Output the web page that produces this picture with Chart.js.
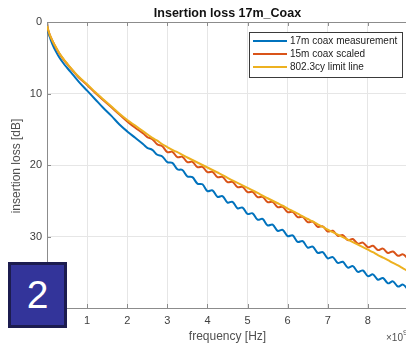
<!DOCTYPE html>
<html>
<head>
<meta charset="utf-8">
<script src="https://cdn.jsdelivr.net/npm/chart.js@4/dist/chart.umd.min.js"></script>
<style>
  html, body { margin: 0; padding: 0; background: #ffffff; }
  #wrap { position: relative; width: 406px; height: 343px; overflow: hidden; }
  #badge {
    position: absolute; left: 8px; top: 262px; width: 53px; height: 60px;
    background: #33349a; border: 3px solid #1c1c4f;
    color: #ffffff; font-family: "Liberation Sans", Arial, sans-serif;
    font-size: 39px; line-height: 60px; text-align: center;
  }
</style>
</head>
<body>
<div id="wrap">
  <canvas id="c" width="406" height="343"></canvas>
  <div id="badge">2</div>
</div>
<script>
// frequency [x 1e9 Hz]
const freq = [0, 0.01, 0.02, 0.04, 0.07, 0.1, 0.15, 0.2, 0.3, 0.4, 0.5, 0.65, 0.8, 1.0, 1.2, 1.4, 1.6, 1.8, 2.0, 2.2, 2.4,
  2.5, 2.625, 2.75, 2.875, 3.0, 3.125, 3.25, 3.375, 3.5, 3.625, 3.75, 3.875,
  4.0, 4.125, 4.25, 4.375, 4.5, 4.625, 4.75, 4.875, 5.0, 5.125, 5.25, 5.375,
  5.5, 5.625, 5.75, 5.875, 6.0, 6.125, 6.25, 6.375, 6.5, 6.625, 6.75, 6.875,
  7.0, 7.125, 7.25, 7.375, 7.5, 7.625, 7.75, 7.875, 8.0, 8.125, 8.25, 8.375,
  8.5, 8.625, 8.75, 8.875, 9.0];

// 17m coax measurement [dB]
const measured17m = [0, 0.8, 1.1, 1.6, 2.1, 2.6, 3.3, 3.9, 4.9, 5.7, 6.4, 7.4, 8.4, 9.6, 10.8, 12.0, 13.1, 14.3, 15.3, 16.2, 17.1,
  17.6, 17.88, 18.57, 18.81, 19.6, 19.7, 20.6, 20.7, 21.6, 21.7, 22.6, 22.7,
  23.65, 23.55, 24.45, 24.35, 25.25, 25.15, 26.05, 25.95, 26.85, 26.75, 27.65, 27.55,
  28.45, 28.33, 29.2, 29.08, 29.95, 29.85, 30.75, 30.65, 31.55, 31.43, 32.3, 32.18,
  33.05, 32.88, 33.7, 33.53, 34.35, 34.15, 34.95, 34.75, 35.55, 35.3, 36.05, 35.8,
  36.55, 36.28, 37.0, 36.73, 37.45];

// 15m coax scaled [dB]
const scaled15m = [0, 0.6, 0.9, 1.3, 1.8, 2.2, 2.8, 3.35, 4.35, 5.15, 5.85, 6.85, 7.8, 8.8, 9.9, 10.9, 11.9, 12.9, 13.9, 14.8, 15.6,
  16.1, 16.38, 17.12, 17.38, 18.2, 18.15, 18.9, 18.85, 19.6, 19.55, 20.3, 20.25,
  21.0, 20.95, 21.7, 21.65, 22.4, 22.35, 23.1, 23.05, 23.8, 23.75, 24.5, 24.45,
  25.2, 25.15, 25.9, 25.85, 26.6, 26.55, 27.3, 27.25, 28.0, 27.93, 28.65, 28.58,
  29.3, 29.2, 29.9, 29.8, 30.5, 30.35, 31.0, 30.85, 31.5, 31.3, 31.9, 31.7,
  32.3, 32.1, 32.7, 32.5, 33.1];

// 802.3cy limit line [dB]
const limitLine = [0, 0.6, 0.9, 1.3, 1.8, 2.2, 2.8, 3.3, 4.3, 5.1, 5.8, 6.8, 7.7, 8.7, 9.8, 10.8, 11.8, 12.8, 13.7, 14.5, 15.3,
  15.7, 16.2, 16.6, 17.1, 17.5, 17.9, 18.2, 18.6, 18.95, 19.3, 19.65, 20.0,
  20.35, 20.7, 21.05, 21.4, 21.8, 22.15, 22.5, 22.85, 23.2, 23.55, 23.9, 24.3,
  24.65, 25.0, 25.35, 25.7, 26.1, 26.45, 26.8, 27.2, 27.55, 27.9, 28.3, 28.65,
  29.05, 29.4, 29.75, 30.1, 30.45, 30.8, 31.15, 31.5, 31.85, 32.2, 32.6, 32.95,
  33.3, 33.7, 34.05, 34.45, 34.85];

const xTicks = [0, 1, 2, 3, 4, 5, 6, 7, 8];
const yTicks = [0, 10, 20, 30, 40];
const seriesNames = ["17m coax measurement", "15m coax scaled", "802.3cy limit line"];
const seriesColors = ["#0072BD", "#D95319", "#EDB120"];

const FONT = '"Liberation Sans", Arial, Helvetica, sans-serif';

function pts(arr) { return freq.map((f, i) => ({ x: f, y: arr[i] })); }

const deco = {
  id: 'deco',
  afterDraw(chart) {
    const { ctx, chartArea: a, scales: { x, y } } = chart;
    ctx.save();
    // top box line and inward ticks
    ctx.strokeStyle = '#8c8c8c';
    ctx.lineWidth = 1;
    ctx.beginPath();
    ctx.moveTo(a.left, a.top + 0.5); ctx.lineTo(a.right, a.top + 0.5);
    xTicks.forEach(v => {
      const px = Math.round(x.getPixelForValue(v)) + 0.5;
      ctx.moveTo(px, a.bottom); ctx.lineTo(px, a.bottom - 4);
      ctx.moveTo(px, a.top); ctx.lineTo(px, a.top + 4);
    });
    yTicks.forEach(v => {
      const py = Math.round(y.getPixelForValue(v)) + 0.5;
      ctx.moveTo(a.left, py); ctx.lineTo(a.left + 4, py);
    });
    ctx.stroke();

    // title
    ctx.fillStyle = '#111111';
    ctx.font = 'bold 12.5px ' + FONT;
    ctx.textAlign = 'center';
    ctx.textBaseline = 'alphabetic';
    ctx.fillText('Insertion loss 17m_Coax', 227.5, 17);

    // axis titles
    ctx.fillStyle = '#505050';
    ctx.font = '12px ' + FONT;
    ctx.fillText('frequency [Hz]', 227.5, 340);
    ctx.save();
    ctx.translate(20, 166);
    ctx.rotate(-Math.PI / 2);
    ctx.fillText('insertion loss [dB]', 0, 0);
    ctx.restore();

    // exponent label
    ctx.textAlign = 'left';
    ctx.font = '10px ' + FONT;
    ctx.fillStyle = '#505050';
    ctx.fillText('\u00d710', 386, 341);
    ctx.font = '8px ' + FONT;
    ctx.fillText('9', 403, 335);

    // legend
    const lx = 249.5, ly = 32.5, lw = 153, lh = 45;
    ctx.fillStyle = '#ffffff';
    ctx.fillRect(lx, ly, lw, lh);
    ctx.strokeStyle = '#3a3a3a';
    ctx.lineWidth = 1;
    ctx.strokeRect(lx, ly, lw, lh);
    ctx.font = '10px ' + FONT;
    ctx.textBaseline = 'middle';
    seriesNames.forEach((name, i) => {
      const ry = 41 + i * 13;
      ctx.strokeStyle = seriesColors[i];
      ctx.lineWidth = 2;
      ctx.beginPath();
      ctx.moveTo(253, ry); ctx.lineTo(287, ry);
      ctx.stroke();
      ctx.fillStyle = '#222222';
      ctx.fillText(name, 290, ry + 0.5);
    });
    ctx.restore();
  }
};

new Chart(document.getElementById('c'), {
  type: 'line',
  data: {
    datasets: [
      { label: seriesNames[0], data: pts(measured17m), borderColor: seriesColors[0], order: 3 },
      { label: seriesNames[1], data: pts(scaled15m), borderColor: seriesColors[1], order: 2 },
      { label: seriesNames[2], data: pts(limitLine), borderColor: seriesColors[2], order: 1 }
    ]
  },
  options: {
    responsive: false,
    animation: false,
    events: [],
    layout: { padding: { top: 22, left: 0, right: 0, bottom: 0 } },
    elements: {
      point: { radius: 0 },
      line: { borderWidth: 2, tension: 0.35, fill: false }
    },
    plugins: { legend: { display: false }, title: { display: false }, tooltip: { enabled: false } },
    scales: {
      x: {
        type: 'linear', min: 0, max: 8.95,
        afterBuildTicks(s) { s.ticks = xTicks.map(v => ({ value: v })); },
        afterFit(s) { s.height = 35; },
        grid: { color: '#e6e6e6', drawTicks: false },
        border: { display: true, color: '#8c8c8c' },
        ticks: { padding: 6, color: '#404040', font: { family: FONT, size: 11 }, maxRotation: 0 }
      },
      y: {
        type: 'linear', reverse: true, min: 0, max: 40,
        afterBuildTicks(s) { s.ticks = yTicks.map(v => ({ value: v })); },
        afterFit(s) { s.width = 47; },
        grid: { color: '#e6e6e6', drawTicks: false },
        border: { display: true, color: '#8c8c8c' },
        ticks: { padding: 5, color: '#404040', font: { family: FONT, size: 11 } }
      }
    }
  },
  plugins: [deco]
});
</script>
</body>
</html>
